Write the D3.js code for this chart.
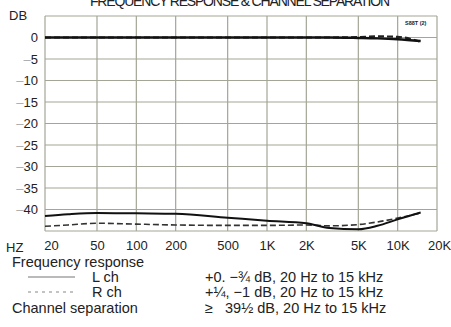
<!DOCTYPE html>
<html>
<head>
<meta charset="utf-8">
<script src="https://cdn.jsdelivr.net/npm/d3@7"></script>
<style>
  body { margin: 0; background: #fff; }
  text { font-family: "Liberation Sans", Arial, sans-serif; fill: #222; }
</style>
</head>
<body>
<div id="chart"></div>
<script>
// chart values
var freqs = [20, 30, 50, 100, 200, 500, 1000, 2000, 3000, 5000, 7000, 10000, 15000];
var lResponse = [0, 0, 0, 0, 0, 0, 0, 0, 0, -0.1, -0.2, -0.4, -0.8];
var rResponse = [0, 0, 0, 0, 0, 0, 0, 0, 0, 0.1, 0.25, 0.15, -1.0];
var lSeparation = [-41.5, -41.1, -40.8, -40.9, -41.0, -41.9, -42.6, -43.2, -44.3, -44.6, -43.8, -42.3, -40.7];
var rSeparation = [-43.9, -43.6, -43.2, -43.4, -43.6, -43.7, -43.7, -43.6, -43.8, -43.5, -42.9, -42.0, -40.8];
var xTicks = [20, 50, 100, 200, 500, 1000, 2000, 5000, 10000, 20000];
var xTickLabels = ["20", "50", "100", "200", "500", "1K", "2K", "5K", "10K", "20K"];
var yTicks = [0, -5, -10, -15, -20, -25, -30, -35, -40];

var margin = { top: 16, right: 14, bottom: 96, left: 45 },
    width = 451 - margin.left - margin.right,
    height = 327 - margin.top - margin.bottom;

var svg = d3.select("#chart")
    .append("svg")
    .attr("width", 451)
    .attr("height", 327);

// title, clipped at the top of the scan
svg.append("text")
    .attr("x", 240).attr("y", 6)
    .attr("text-anchor", "middle")
    .attr("textLength", 300)
    .style("font-size", "14px")
    .text("FREQUENCY RESPONSE & CHANNEL SEPARATION");

var g = svg.append("g")
    .attr("transform", "translate(" + margin.left + "," + margin.top + ")");

var x = d3.scaleLog().domain([20, 20000]).range([0, width]);
var y = d3.scaleLinear().domain([-45, 5]).range([height, 0]);

// grid
g.selectAll(".vgrid")
    .data(xTicks)
    .enter().append("line")
    .attr("x1", function (d) { return x(d); })
    .attr("x2", function (d) { return x(d); })
    .attr("y1", 0).attr("y2", height)
    .attr("stroke", "#a3a596").attr("stroke-width", 1.2);

g.selectAll(".hgrid")
    .data(d3.range(5, -46, -5))
    .enter().append("line")
    .attr("x1", 0).attr("x2", width)
    .attr("y1", function (d) { return y(d); })
    .attr("y2", function (d) { return y(d); })
    .attr("stroke", "#a3a596").attr("stroke-width", 1.2);

// Y axis labels, the minus dash is printed lighter
var yAxis = g.append("g")
    .call(d3.axisLeft(y).tickValues(yTicks).tickSize(0).tickPadding(7).tickFormat(""));
yAxis.select(".domain").remove();
yAxis.selectAll(".tick text").each(function (d) {
    var t = d3.select(this)
        .style("font-size", "13px")
        .style("font-family", "\"Liberation Sans\", Arial, sans-serif")
        .attr("fill", "#333");
    if (d !== 0) {
        t.append("tspan").attr("fill", "#aaa").text("\u2012");
    }
    t.append("tspan").text(Math.abs(d));
});

svg.append("text")
    .attr("x", 9).attr("y", 20)
    .style("font-size", "13px")
    .text("DB");

// X axis labels
var xAxis = g.append("g")
    .attr("transform", "translate(0," + height + ")")
    .call(d3.axisBottom(x).tickValues(xTicks).tickSize(0).tickPadding(10)
        .tickFormat(function (d, i) { return xTickLabels[i]; }));
xAxis.select(".domain").remove();
xAxis.selectAll("text")
    .style("font-size", "13px")
    .style("font-family", "\"Liberation Sans\", Arial, sans-serif")
    .attr("fill", "#333")
    .attr("dx", function (d) { return d === 20 ? 6 : (d === 20000 ? 2 : 0); });

svg.append("text")
    .attr("x", 6).attr("y", margin.top + height + 21)
    .style("font-size", "13px")
    .text("HZ");

svg.append("text")
    .attr("x", 405).attr("y", 25)
    .style("font-size", "5.5px")
    .style("font-weight", "bold")
    .text("S88T (2)");

// curves
var line = function (vals) {
    return d3.line()
        .x(function (d, i) { return x(freqs[i]); })
        .y(function (d) { return y(d); })
        .curve(d3.curveMonotoneX)(vals);
};

g.append("path").attr("d", line(rResponse))
    .attr("fill", "none").attr("stroke", "#222").attr("stroke-width", 2.2)
    .attr("stroke-dasharray", "6,3");
g.append("path").attr("d", line(lResponse))
    .attr("fill", "none").attr("stroke", "#111").attr("stroke-width", 2.4);

g.append("path").attr("d", line(rSeparation))
    .attr("fill", "none").attr("stroke", "#333").attr("stroke-width", 1.6)
    .attr("stroke-dasharray", "6,3");
g.append("path").attr("d", line(lSeparation))
    .attr("fill", "none").attr("stroke", "#111").attr("stroke-width", 2);

// legend and spec text
var leg = svg.append("g").style("font-size", "14.5px");
leg.append("text").attr("x", 12).attr("y", 267).text("Frequency response");
leg.append("line").attr("x1", 28).attr("x2", 75).attr("y1", 277).attr("y2", 277)
    .attr("stroke", "#777").attr("stroke-width", 1.2);
leg.append("text").attr("x", 92).attr("y", 282).text("L ch");
leg.append("line").attr("x1", 28).attr("x2", 75).attr("y1", 292).attr("y2", 292)
    .attr("stroke", "#888").attr("stroke-width", 1.2).attr("stroke-dasharray", "3,4");
leg.append("text").attr("x", 92).attr("y", 297).text("R ch");
leg.append("text").attr("x", 12).attr("y", 313).text("Channel separation");

leg.append("text").attr("x", 205).attr("y", 282).text("+0. \u2212\u00be dB, 20 Hz to 15 kHz");
leg.append("text").attr("x", 205).attr("y", 297).text("+\u00bc, \u22121 dB, 20 Hz to 15 kHz");
leg.append("text").attr("x", 205).attr("y", 313).text("\u2265\u00a0\u00a0 39\u00bd dB, 20 Hz to 15 kHz");
</script>
</body>
</html>
